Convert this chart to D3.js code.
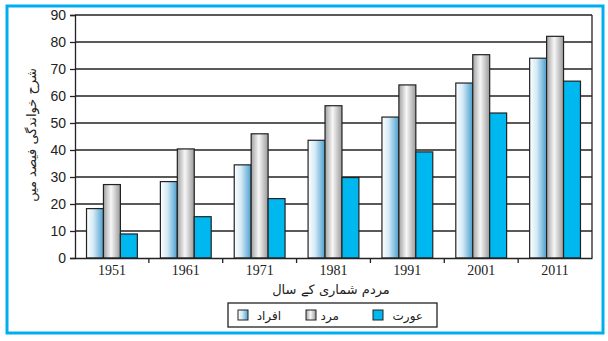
<!DOCTYPE html>
<html>
<head>
<meta charset="utf-8">
<script src="https://cdn.jsdelivr.net/npm/d3@7"></script>
<style>
  body { margin: 0; background: #fff; }
  svg { display: block; }
</style>
</head>
<body>
<div id="chart"></div>
<script>
// census years and literacy rates (%)
const years = ["1951", "1961", "1971", "1981", "1991", "2001", "2011"];
const afrad = [18.3, 28.3, 34.5, 43.6, 52.2, 64.8, 74.0];
const mard = [27.2, 40.4, 46.0, 56.4, 64.1, 75.3, 82.1];
const aurat = [8.9, 15.3, 22.0, 29.8, 39.3, 53.7, 65.5];
const yTicks = [0, 10, 20, 30, 40, 50, 60, 70, 80, 90];
const seriesNames = ["افراد", "مرد", "عورت"];

const W = 608, H = 341;
const plotL = 75, plotR = 592, plotT = 15, plotB = 258;

const svg = d3.select("#chart").append("svg")
    .attr("width", W)
    .attr("height", H);

const defs = svg.append("defs");
const g1 = defs.append("linearGradient").attr("id", "gAfrad");
g1.append("stop").attr("offset", "0%").attr("stop-color", "#ffffff");
g1.append("stop").attr("offset", "40%").attr("stop-color", "#d6ebf6");
g1.append("stop").attr("offset", "100%").attr("stop-color", "#4a9fcf");
const g2 = defs.append("linearGradient").attr("id", "gMard");
g2.append("stop").attr("offset", "0%").attr("stop-color", "#a2a2a2");
g2.append("stop").attr("offset", "45%").attr("stop-color", "#f7f7f7");
g2.append("stop").attr("offset", "100%").attr("stop-color", "#9a9a9a");
const fills = ["url(#gAfrad)", "url(#gMard)", "#00b8f0"];

// outer blue frame
svg.append("rect")
    .attr("x", 7).attr("y", 6)
    .attr("width", 596).attr("height", 327)
    .attr("fill", "none")
    .attr("stroke", "#00aeef")
    .attr("stroke-width", 3);

const x = d3.scaleBand().domain(years).range([plotL, plotR]);
const xs = d3.scaleBand().domain([0, 1, 2]).range([0, x.bandwidth()]).paddingOuter(0.68);
const y = d3.scaleLinear().domain([0, 90]).range([plotB, plotT]);

// gridlines
svg.append("g")
    .selectAll("line")
    .data(yTicks.slice(1))
    .enter()
    .append("line")
    .attr("x1", plotL).attr("x2", plotR)
    .attr("y1", d => y(d)).attr("y2", d => y(d))
    .attr("stroke", "#222")
    .attr("stroke-width", 1.3);

svg.append("line")
    .attr("x1", plotR).attr("x2", plotR)
    .attr("y1", y(90)).attr("y2", y(0))
    .attr("stroke", "#222")
    .attr("stroke-width", 1.3);

// bars
const series = [afrad, mard, aurat];
series.forEach((vals, s) => {
    svg.append("g")
        .selectAll("rect")
        .data(vals)
        .enter()
        .append("rect")
        .attr("x", (d, i) => x(years[i]) + xs(s))
        .attr("y", d => y(d))
        .attr("width", xs.bandwidth())
        .attr("height", d => y(0) - y(d))
        .attr("fill", fills[s])
        .attr("stroke", "#222")
        .attr("stroke-width", 1.2);
});

// y axis
const yAxis = svg.append("g")
    .attr("transform", `translate(${plotL},0)`)
    .call(d3.axisLeft(y).tickValues(yTicks).tickSize(5).tickPadding(4));
yAxis.select(".domain").attr("stroke", "#222").attr("stroke-width", 1.3);
yAxis.selectAll(".tick line").attr("stroke", "#222").attr("stroke-width", 1.3);
yAxis.selectAll("text")
    .attr("font-family", "Liberation Sans, Arial, sans-serif")
    .attr("font-size", 14)
    .attr("fill", "#222");

// x axis
const xAxis = svg.append("g")
    .attr("transform", `translate(0,${plotB})`)
    .call(d3.axisBottom(x).tickSize(0).tickPadding(7));
xAxis.select(".domain").attr("stroke", "#222").attr("stroke-width", 1.3);
xAxis.selectAll("text")
    .attr("font-family", "Liberation Serif, Times New Roman, serif")
    .attr("font-size", 14)
    .attr("fill", "#222");

// ticks between groups
svg.append("g")
    .selectAll("line")
    .data(years.slice(1))
    .enter()
    .append("line")
    .attr("x1", d => x(d)).attr("x2", d => x(d))
    .attr("y1", plotB).attr("y2", plotB + 5)
    .attr("stroke", "#222")
    .attr("stroke-width", 1.3);

// axis titles
svg.append("text")
    .attr("transform", "translate(36,135) rotate(-90)")
    .attr("text-anchor", "middle")
    .attr("font-family", "DejaVu Sans, sans-serif")
    .attr("font-size", 13)
    .attr("fill", "#222")
    .text("شرح خواندگی فیصد میں");

svg.append("text")
    .attr("x", 331).attr("y", 294)
    .attr("text-anchor", "middle")
    .attr("font-family", "DejaVu Sans, sans-serif")
    .attr("font-size", 13)
    .attr("fill", "#222")
    .text("مردم شماری کے سال");

// legend
const legend = svg.append("g");
legend.append("rect")
    .attr("x", 228).attr("y", 303)
    .attr("width", 209).attr("height", 24)
    .attr("fill", "#fff")
    .attr("stroke", "#222")
    .attr("stroke-width", 1.3);
const legX = [238, 306, 373];
const legTextX = [281, 339, 423];
seriesNames.forEach((name, i) => {
    legend.append("rect")
        .attr("x", legX[i]).attr("y", 310)
        .attr("width", 10).attr("height", 10)
        .attr("fill", fills[i])
        .attr("stroke", "#222")
        .attr("stroke-width", 1);
    legend.append("text")
        .attr("x", legTextX[i]).attr("y", 320)
        .attr("text-anchor", "end")
        .attr("font-family", "DejaVu Sans, sans-serif")
        .attr("font-size", 12)
        .attr("fill", "#222")
        .text(name);
});
</script>
</body>
</html>
